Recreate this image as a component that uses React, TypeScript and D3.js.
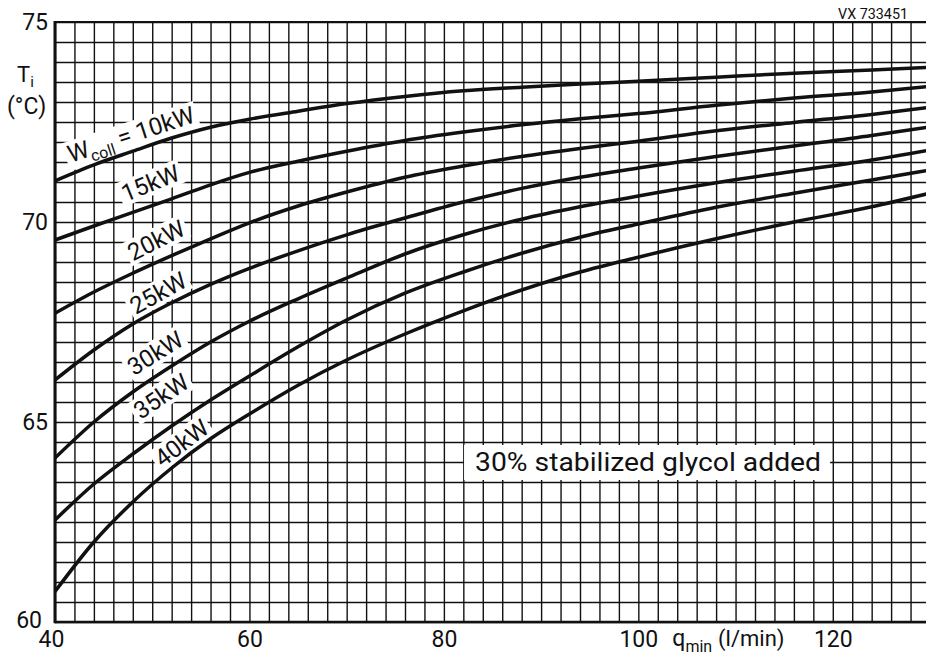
import React, { useEffect, useRef } from "react";
import * as d3 from "d3";

// flow rate q_min (l/min)
const qMin = [40, 44, 48, 52, 56, 60, 65, 70, 76, 82, 88, 94, 100, 108, 116, 124, 130];

// inlet temperature T_i (°C) for each collector power
const t10kW = [71.03, 71.43, 71.77, 72.1, 72.37, 72.57, 72.77, 72.96, 73.14, 73.28, 73.37, 73.45, 73.52, 73.62, 73.72, 73.8, 73.87];
const t15kW = [69.55, 69.9, 70.24, 70.58, 70.93, 71.24, 71.52, 71.77, 72.04, 72.25, 72.43, 72.58, 72.71, 72.92, 73.1, 73.25, 73.39];
const t20kW = [67.72, 68.25, 68.72, 69.16, 69.58, 69.98, 70.4, 70.75, 71.12, 71.4, 71.64, 71.84, 72.02, 72.28, 72.49, 72.69, 72.87];
const t25kW = [66.05, 66.8, 67.45, 67.98, 68.44, 68.84, 69.28, 69.68, 70.1, 70.5, 70.84, 71.12, 71.35, 71.64, 71.9, 72.16, 72.38];
const t30kW = [64.1, 65.0, 65.75, 66.4, 67.0, 67.52, 68.08, 68.6, 69.2, 69.68, 70.07, 70.38, 70.65, 70.98, 71.27, 71.55, 71.8];
const t35kW = [62.55, 63.45, 64.2, 64.9, 65.55, 66.15, 66.88, 67.55, 68.22, 68.75, 69.22, 69.62, 69.95, 70.37, 70.72, 71.05, 71.3];
const t40kW = [60.76, 62.0, 63.0, 63.85, 64.58, 65.2, 65.92, 66.55, 67.2, 67.78, 68.3, 68.75, 69.12, 69.58, 70.0, 70.38, 70.72];

const series = [t10kW, t15kW, t20kW, t25kW, t30kW, t35kW, t40kW];
const powerLabels = ["10kW", "15kW", "20kW", "25kW", "30kW", "35kW", "40kW"];
// where each curve label sits (q, T) and its tilt
const labelQ = [47.8, 49.8, 50.4, 50.6, 50.3, 50.9, 53.0];
const labelT = [72.2, 70.98, 69.55, 68.23, 66.73, 65.65, 64.48];
const labelAngle = [-18, -22, -27, -29, -32, -34, -37];

const xTicks = [40, 60, 80, 100, 120];
const yTicks = [60, 65, 70, 75];

const font = "Roboto, 'DejaVu Sans', sans-serif";
const ink = "#111";

export default function App() {
  const ref = useRef<SVGSVGElement>(null);

  useEffect(() => {
    const width = 926;
    const height = 659;
    const margin = { top: 22, left: 55, bottom: 37 };
    const innerHeight = height - margin.top - margin.bottom;

    const svg = d3.select(ref.current);
    svg.selectAll("*").remove();

    const x = d3.scaleLinear().domain([40, 130]).range([margin.left, 930]);
    const y = d3.scaleLinear().domain([60, 75]).range([margin.top + innerHeight, margin.top]);

    svg.append("rect").attr("width", width).attr("height", height).attr("fill", "#fff");

    // grid
    const gridX = svg.append("g")
      .attr("transform", `translate(0,${y(60)})`)
      .call(d3.axisBottom(x).tickValues(d3.range(40, 131, 2)).tickSize(-innerHeight).tickFormat(() => ""));
    gridX.select(".domain").remove();
    gridX.selectAll("line").attr("stroke", ink).attr("stroke-width", 1.4);

    const gridY = svg.append("g")
      .attr("transform", `translate(${x(40)},0)`)
      .call(d3.axisLeft(y).tickValues(d3.range(60, 75.01, 0.5)).tickSize(-(x(130) - x(40))).tickFormat(() => ""));
    gridY.select(".domain").remove();
    gridY.selectAll("line").attr("stroke", ink).attr("stroke-width", 1.4);

    // frame
    svg.append("line").attr("x1", x(40)).attr("x2", width).attr("y1", y(75)).attr("y2", y(75))
      .attr("stroke", ink).attr("stroke-width", 2);
    svg.append("line").attr("x1", x(40)).attr("x2", width).attr("y1", y(60)).attr("y2", y(60))
      .attr("stroke", ink).attr("stroke-width", 2.6);
    svg.append("line").attr("x1", x(40)).attr("x2", x(40)).attr("y1", y(75) - 1).attr("y2", y(60) + 1.3)
      .attr("stroke", ink).attr("stroke-width", 3);

    // curve labels with white boxes
    powerLabels.forEach((lab, i) => {
      const g = svg.append("g")
        .attr("transform", `translate(${x(labelQ[i])},${y(labelT[i])}) rotate(${labelAngle[i]})`);
      const text = g.append("text")
        .attr("text-anchor", "middle")
        .attr("dy", "0.36em")
        .attr("font-family", font)
        .attr("font-size", 24)
        .attr("fill", ink);
      if (i === 0) {
        text.append("tspan").text("W");
        text.append("tspan").attr("font-size", 16).attr("dy", 6).text("coll");
        text.append("tspan").attr("dy", -6).text(" = " + lab);
      } else {
        text.text(lab);
      }
      const bb = (text.node() as SVGTextElement).getBBox();
      g.insert("rect", "text")
        .attr("x", bb.x - 3).attr("y", bb.y + 1)
        .attr("width", bb.width + 6).attr("height", bb.height - 3)
        .attr("fill", "#fff");
    });

    // glycol note
    const note = svg.append("g").attr("transform", `translate(${x(101)},${y(64)})`);
    note.append("rect")
      .attr("x", -184).attr("y", -17)
      .attr("width", 366).attr("height", 35)
      .attr("fill", "#fff");
    note.append("text")
      .attr("text-anchor", "middle")
      .attr("dy", "0.36em")
      .attr("font-family", font)
      .attr("font-size", 26)
      .attr("fill", ink)
      .attr("textLength", 346)
      .attr("lengthAdjust", "spacingAndGlyphs")
      .text("30% stabilized glycol added");

    // curves
    const line = d3.line<[number, number]>()
      .x((d) => x(d[0]))
      .y((d) => y(d[1]))
      .curve(d3.curveMonotoneX);

    svg.append("g")
      .selectAll("path")
      .data(series)
      .join("path")
      .attr("d", (s) => line(qMin.map((q, j) => [q, s[j]] as [number, number])))
      .attr("fill", "none")
      .attr("stroke", ink)
      .attr("stroke-width", 3.5)
      .attr("stroke-linejoin", "round");

    // tick labels
    const xAxis = svg.append("g")
      .attr("transform", `translate(0,${y(60)})`)
      .call(d3.axisBottom(x).tickValues(xTicks).tickSize(0).tickPadding(9).tickFormat(d3.format("d")));
    xAxis.select(".domain").remove();
    xAxis.selectAll("text").attr("font-family", font).attr("font-size", 23).attr("fill", ink);
    xAxis.selectAll<SVGTextElement, number>("text").filter((d) => d === 40).attr("x", -4);

    const yAxis = svg.append("g")
      .attr("transform", `translate(${x(40)},0)`)
      .call(d3.axisLeft(y).tickValues(yTicks).tickSize(0).tickPadding(7).tickFormat(d3.format("d")));
    yAxis.select(".domain").remove();
    yAxis.selectAll("text").attr("font-family", font).attr("font-size", 23).attr("fill", ink);
    yAxis.selectAll<SVGTextElement, number>("text").filter((d) => d === 60).attr("x", -13).attr("dy", "0.22em");

    // axis titles
    const ti = svg.append("text").attr("x", 17).attr("y", 82)
      .attr("font-family", font).attr("font-size", 22).attr("fill", ink);
    ti.append("tspan").text("T");
    ti.append("tspan").attr("font-size", 15).attr("dy", 5).text("i");
    svg.append("text").attr("x", 7).attr("y", 114)
      .attr("font-family", font).attr("font-size", 23).attr("fill", ink)
      .text("(°C)");

    const qt = svg.append("text").attr("x", x(103.5)).attr("y", height - 13)
      .attr("font-family", font).attr("font-size", 23).attr("fill", ink);
    qt.append("tspan").text("q");
    qt.append("tspan").attr("font-size", 16).attr("dy", 6).text("min");
    svg.append("text").attr("x", x(108.2)).attr("y", height - 13)
      .attr("font-family", font).attr("font-size", 22).attr("fill", ink)
      .text("(l/min)");

    svg.append("text").attr("x", 908).attr("y", 19)
      .attr("text-anchor", "end")
      .attr("font-family", font).attr("font-size", 15).attr("fill", ink)
      .attr("textLength", 70).attr("lengthAdjust", "spacingAndGlyphs")
      .text("VX 733451");
  }, []);

  return (
    <div>
      <style>{"body{margin:0}"}</style>
      <svg ref={ref} width={926} height={659} style={{ display: "block" }} />
    </div>
  );
}
